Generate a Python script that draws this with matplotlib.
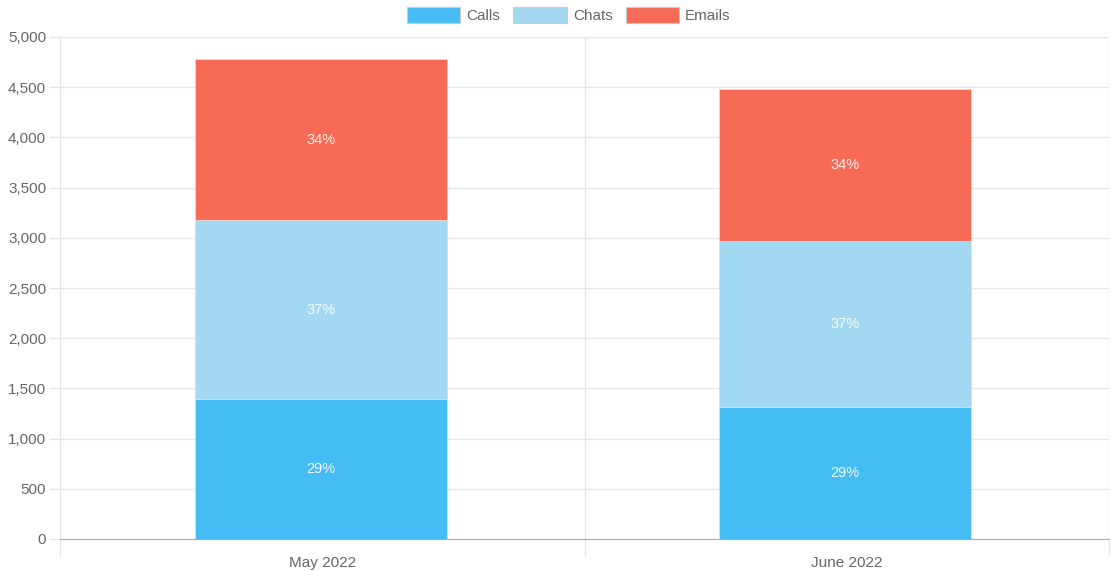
import numpy as np
import matplotlib
matplotlib.use("Agg")
import matplotlib.pyplot as plt
from matplotlib.ticker import FuncFormatter, FixedLocator

months = ["May 2022", "June 2022"]
calls = [1394, 1315]
chats = [1783, 1653]
emails = [1604, 1510]

series = [("Calls", calls, "#45bdf4"),
          ("Chats", chats, "#a3d8f2"),
          ("Emails", emails, "#f76a56")]

plt.rcParams["font.family"] = ["Liberation Sans", "DejaVu Sans"]
gray = "#666666"
grid = "#e6e6e6"

fig = plt.figure(figsize=(11.11, 5.71), dpi=100)
ax = fig.add_axes([60 / 1111, 32 / 571, 1049 / 1111, 502 / 571])

x = np.arange(len(months))
totals = np.array(calls) + np.array(chats) + np.array(emails)
bottom = np.zeros(len(months))
for name, vals, col in series:
    vals = np.array(vals)
    ax.bar(x - 0.003, vals, 0.48, bottom=bottom, color=col, label=name,
           edgecolor="#dddddd", linewidth=0.6, zorder=3)
    for xi, b, v, t in zip(x, bottom, vals, totals):
        ax.text(xi - 0.003, b + v / 2, f"{round(v / t * 100)}%", ha="center", va="center",
                color="white", alpha=0.9, fontsize=10.5, zorder=4)
    bottom = bottom + vals

ax.set_xlim(-0.5, 1.5)
ax.set_ylim(0, 5000)
ax.set_yticks(np.arange(0, 5001, 500))
ax.yaxis.set_major_formatter(FuncFormatter(lambda v, p: f"{int(v):,}"))
ax.set_xticks(x)
ax.set_xticklabels(months)
ax.xaxis.set_minor_locator(FixedLocator([-0.5, 0.5, 1.5]))

ax.grid(axis="y", color=grid, linewidth=1, zorder=0)
ax.grid(axis="x", which="minor", color=grid, linewidth=1, zorder=0)
ax.tick_params(axis="y", colors=grid, labelcolor=gray, labelsize=11, length=8, width=1, pad=2)
ax.tick_params(axis="x", which="major", length=0, labelcolor=gray, labelsize=11, pad=12)
ax.tick_params(axis="x", which="minor", colors=grid, length=12, width=1)

for s in ["top", "right"]:
    ax.spines[s].set_visible(False)
ax.spines["left"].set_color(grid)
ax.spines["bottom"].set_color("#aaaaaa")

leg = fig.legend(loc="upper center", bbox_to_anchor=(0.512, 1.012), ncol=3, frameon=False,
                 fontsize=11, handlelength=3.5, handleheight=1.2, handletextpad=0.4,
                 columnspacing=0.85, labelcolor=gray)
for h in leg.legend_handles:
    h.set_edgecolor("#cccccc")
    h.set_linewidth(0.8)

fig.savefig("out.png", dpi=100)
